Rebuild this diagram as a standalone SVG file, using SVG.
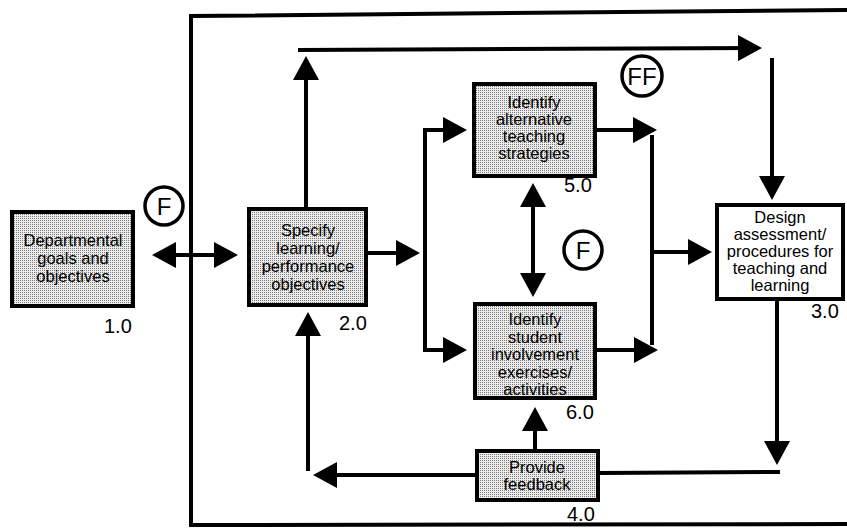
<svg xmlns="http://www.w3.org/2000/svg" width="847" height="529" viewBox="0 0 847 529">
<style>
.box{stroke:#000;stroke-width:4;fill:url(#dots)}
.wbox{stroke:#000;stroke-width:4;fill:#fff}
.t{font-family:"Liberation Sans",Arial,sans-serif;font-size:16.5px;text-anchor:middle;fill:#000}
.n{font-family:"Liberation Sans",Arial,sans-serif;font-size:20px;fill:#000}
.c{font-family:"Liberation Sans",Arial,sans-serif;font-size:24px;text-anchor:middle;fill:#000}
.ln{stroke:#000;stroke-width:4;fill:none}
.a{stroke:#000;stroke-width:4;fill:none;marker-end:url(#ah)}
.aa{stroke:#000;stroke-width:4;fill:none;marker-end:url(#ah);marker-start:url(#ahs)}
.circ{stroke:#000;stroke-width:3.5;fill:#fff}
</style>
<defs>
<pattern id="dots" width="2" height="2" patternUnits="userSpaceOnUse">
<rect width="2" height="2" fill="#ececec"/><rect width="1" height="1" fill="#7a7a7a"/>
</pattern>
<marker id="ah" markerUnits="userSpaceOnUse" markerWidth="24" markerHeight="26" refX="20" refY="13" orient="auto">
<path d="M0,0 L24,13 L0,26 z" fill="#000"/>
</marker>
<marker id="ahs" markerUnits="userSpaceOnUse" markerWidth="24" markerHeight="26" refX="20" refY="13" orient="auto-start-reverse">
<path d="M0,0 L24,13 L0,26 z" fill="#000"/>
</marker>
</defs>
<rect width="847" height="529" fill="#fff"/>
<g id="frame">
<path class="ln" d="M847,10 L191,16 L191,525 L847,524"/>
</g>
<g id="connectors">
<line class="aa" x1="156" y1="255" x2="234" y2="255"/>
<line class="a" x1="306" y1="207" x2="306" y2="60"/>
<line class="a" x1="298" y1="50" x2="758" y2="48"/>
<line class="a" x1="772" y1="58" x2="772" y2="196"/>
<line class="a" x1="368" y1="253" x2="416" y2="253"/>
<polyline class="ln" points="463,130 425,130 425,350 463,350"/>
<line class="a" x1="425" y1="130" x2="463" y2="130"/>
<line class="a" x1="425" y1="350" x2="463" y2="350"/>
<line class="a" x1="597" y1="130" x2="653" y2="130"/>
<line class="a" x1="597" y1="350" x2="654" y2="350"/>
<line class="ln" x1="652" y1="135" x2="652" y2="345"/>
<line class="a" x1="652" y1="252" x2="708" y2="252"/>
<line class="aa" x1="533" y1="187" x2="533" y2="293"/>
<line class="a" x1="777" y1="300" x2="777" y2="461"/>
<line class="ln" x1="780" y1="472" x2="600" y2="473"/>
<line class="a" x1="475" y1="475" x2="317" y2="475"/>
<line class="a" x1="308" y1="471" x2="308" y2="316"/>
<line class="a" x1="535" y1="449" x2="535" y2="411"/>
</g>
<g id="n1">
<rect class="box" x="12" y="212" width="121" height="94"/>
<text class="t" x="73" y="246">Departmental</text>
<text class="t" x="73" y="264">goals and</text>
<text class="t" x="73" y="282">objectives</text>
<text class="n" x="104" y="333">1.0</text>
</g>
<g id="n2">
<rect class="box" x="249" y="209" width="117" height="96"/>
<text class="t" x="308" y="236">Specify</text>
<text class="t" x="308" y="254">learning/</text>
<text class="t" x="308" y="272">performance</text>
<text class="t" x="308" y="290">objectives</text>
<text class="n" x="339" y="330">2.0</text>
</g>
<g id="n5">
<rect class="box" x="474" y="84" width="121" height="92"/>
<text class="t" x="534" y="108">Identify</text>
<text class="t" x="534" y="125">alternative</text>
<text class="t" x="534" y="142">teaching</text>
<text class="t" x="534" y="159">strategies</text>
<text class="n" x="564" y="192">5.0</text>
</g>
<g id="n6">
<rect class="box" x="475" y="304" width="120" height="94"/>
<text class="t" x="535" y="325">Identify</text>
<text class="t" x="535" y="342.5">student</text>
<text class="t" x="535" y="360">involvement</text>
<text class="t" x="535" y="377.5">exercises/</text>
<text class="t" x="535" y="395">activities</text>
<text class="n" x="566" y="419">6.0</text>
</g>
<g id="n3">
<rect class="wbox" x="717" y="205" width="126" height="94"/>
<text class="t" x="780" y="223">Design</text>
<text class="t" x="780" y="240">assessment/</text>
<text class="t" x="780" y="257">procedures for</text>
<text class="t" x="780" y="274">teaching and</text>
<text class="t" x="780" y="291">learning</text>
<text class="n" x="811" y="318">3.0</text>
</g>
<g id="n4">
<rect class="box" x="477" y="451" width="121" height="49"/>
<text class="t" x="537" y="473">Provide</text>
<text class="t" x="537" y="490">feedback</text>
<text class="n" x="567" y="521">4.0</text>
</g>
<g id="f1">
<circle class="circ" cx="164" cy="206" r="19"/>
<text class="c" x="164" y="215">F</text>
</g>
<g id="ff">
<circle class="circ" cx="642" cy="76" r="20"/>
<text class="c" x="642" y="85">FF</text>
</g>
<g id="f2">
<circle class="circ" cx="583" cy="250" r="19"/>
<text class="c" x="583" y="259">F</text>
</g>
</svg>
